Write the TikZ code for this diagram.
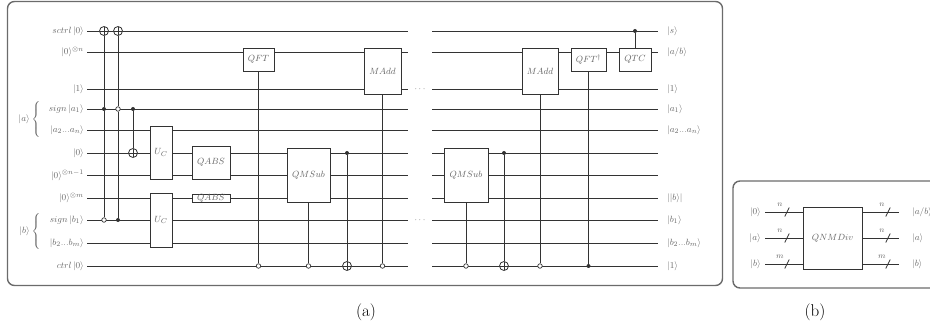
\documentclass[tikz,border=0pt]{standalone}
\usetikzlibrary{calc}
\definecolor{wirecol}{gray}{0.2}
\definecolor{txtcol}{gray}{0.4}
\definecolor{framecol}{gray}{0.42}
\begin{document}
\begin{tikzpicture}[x=1pt,y=-1pt,
  wire/.style={draw=wirecol,line width=0.8pt},
  lbl/.style={text=txtcol,font=\fontsize{9.5}{11}\selectfont,inner sep=1pt},
  smlbl/.style={text=txtcol,font=\fontsize{8}{9}\selectfont,inner sep=0pt},
  gbox/.style={draw=wirecol,line width=0.8pt,fill=white,text=txtcol,font=\fontsize{9.5}{11}\selectfont,inner sep=0pt},
  cfill/.style={circle,fill=wirecol,inner sep=0pt,minimum size=4pt},
  copen/.style={circle,draw=wirecol,fill=white,line width=0.7pt,inner sep=0pt,minimum size=4.5pt},
  targ/.style={circle,draw=wirecol,fill=white,line width=0.8pt,inner sep=0pt,minimum size=9pt,
    path picture={\draw[wirecol,line width=0.8pt] (path picture bounding box.north) -- (path picture bounding box.south)
      (path picture bounding box.west) -- (path picture bounding box.east);}},
  conn/.style={draw=wirecol,line width=0.8pt},
  panel/.style={draw=framecol,line width=1.4pt,rounded corners=7pt},
  subcap/.style={font=\fontsize{17}{20}\selectfont,inner sep=0pt}
]
\useasboundingbox (0,0) rectangle (930,331);

% frames
\draw[panel] (7.5,1.5) rectangle (722.5,285.5);
\draw[panel] (733,181) rectangle (950,288);
\node[subcap] (capa) at (366,312) {(a)};
\node[subcap] (capb) at (815,312) {(b)};

% wires
\foreach \n/\y in {1/31,2/52,3/89,4/109,5/130,6/153,7/175,8/198,9/220,10/243,11/266} {
  \coordinate (wL\n) at (87,\y);
  \coordinate (wM\n) at (408,\y);
  \coordinate (wN\n) at (432,\y);
  \coordinate (wR\n) at (658,\y);
  \draw[wire] (wL\n) -- (wM\n) (wN\n) -- (wR\n);
}
\node[lbl,anchor=base] (dots1) at (420,91.4) {$\cdots$};
\node[lbl,anchor=base] (dots2) at (420,222.4) {$\cdots$};

% left labels
\node[lbl,anchor=east] (l1) at ([xshift=-2pt]wL1) {$sctrl\,|0\rangle$};
\node[lbl,anchor=east] (l2) at ([xshift=-2pt]wL2) {$|0\rangle^{\otimes n}$};
\node[lbl,anchor=east] (l3) at ([xshift=-2pt]wL3) {$|1\rangle$};
\node[lbl,anchor=east] (l4) at ([xshift=-2pt]wL4) {$sign\,|a_1\rangle$};
\node[lbl,anchor=east] (l5) at ([xshift=-2pt]wL5) {$|a_2...a_n\rangle$};
\node[lbl,anchor=east] (l6) at ([xshift=-2pt]wL6) {$|0\rangle$};
\node[lbl,anchor=east] (l7) at ([xshift=-2pt]wL7) {$|0\rangle^{\otimes n-1}$};
\node[lbl,anchor=east] (l8) at ([xshift=-2pt]wL8) {$|0\rangle^{\otimes m}$};
\node[lbl,anchor=east] (l9) at ([xshift=-2pt]wL9) {$sign\,|b_1\rangle$};
\node[lbl,anchor=east] (l10) at ([xshift=-2pt]wL10) {$|b_2...b_m\rangle$};
\node[lbl,anchor=east] (l11) at ([xshift=-2pt]wL11) {$ctrl\,|0\rangle$};

% braces
\node[text=txtcol,inner sep=0pt,anchor=east] (bra) at (42,119.5) {$\left\{\rule[-15.5pt]{0pt}{31pt}\right.$};
\node[lbl,anchor=east] (ka) at (31,119.5) {$|a\rangle$};
\node[text=txtcol,inner sep=0pt,anchor=east] (brb) at (42,231.5) {$\left\{\rule[-15.5pt]{0pt}{31pt}\right.$};
\node[lbl,anchor=east] (kb) at (31,231.5) {$|b\rangle$};

% right labels
\node[lbl,anchor=west] (r1) at ([xshift=8pt]wR1) {$|s\rangle$};
\node[lbl,anchor=west] (r2) at ([xshift=8pt]wR2) {$|a/b\rangle$};
\node[lbl,anchor=west] (r3) at ([xshift=8pt]wR3) {$|1\rangle$};
\node[lbl,anchor=west] (r4) at ([xshift=8pt]wR4) {$|a_1\rangle$};
\node[lbl,anchor=west] (r5) at ([xshift=8pt]wR5) {$|a_2...a_n\rangle$};
\node[lbl,anchor=west] (r8) at ([xshift=8pt]wR8) {$||b\rangle|$};
\node[lbl,anchor=west] (r9) at ([xshift=8pt]wR9) {$|b_1\rangle$};
\node[lbl,anchor=west] (r10) at ([xshift=8pt]wR10) {$|b_2...b_m\rangle$};
\node[lbl,anchor=west] (r11) at ([xshift=8pt]wR11) {$|1\rangle$};

% gate boxes
\node[gbox,minimum width=22pt,minimum height=53pt] (uc1) at (161,152.5) {$U_C$};
\node[gbox,minimum width=22pt,minimum height=54pt] (uc2) at (161,220) {$U_C$};
\node[gbox,minimum width=38pt,minimum height=33pt] (qabs1) at (211,162.5) {$QABS$};
\node[gbox,minimum width=38pt,minimum height=8pt,text height=5pt,text depth=0pt] (qabs2) at (211,198) {$QABS$};
\node[gbox,minimum width=31pt,minimum height=23pt] (qft) at (258.5,59.5) {$QFT$};
\node[gbox,minimum width=43pt,minimum height=54pt] (qms1) at (308.5,175) {$QMSub$};
\node[gbox,minimum width=37pt,minimum height=46pt] (madd1) at (382.5,71) {$MAdd$};
\node[gbox,minimum width=44pt,minimum height=54pt] (qms2) at (466,175) {$QMSub$};
\node[gbox,minimum width=36pt,minimum height=46pt] (madd2) at (540,71) {$MAdd$};
\node[gbox,minimum width=35pt,minimum height=23pt] (qftd) at (588.5,59.5) {$QFT^{\dagger}$};
\node[gbox,minimum width=32pt,minimum height=23pt] (qtc) at (635,59.5) {$QTC$};

% controlled gates
\node[targ] (t1) at (104,31) {};
\node[cfill] (d1) at (104,109) {};
\node[copen] (o1) at (104,220) {};
\draw[conn] (t1) -- (d1) -- (o1);

\node[targ] (t2) at (118,31) {};
\node[copen] (o2) at (118,109) {};
\node[cfill] (d2) at (118,220) {};
\draw[conn] (t2) -- (o2) -- (d2);

\node[cfill] (d3) at (133,109) {};
\node[targ] (t3) at (133,153) {};
\draw[conn] (d3) -- (t3);

\node[copen] (o4) at (258.5,266) {};
\draw[conn] (qft) -- (o4);

\node[copen] (o5) at (308.5,266) {};
\draw[conn] (qms1) -- (o5);

\node[cfill] (d6) at (347,153) {};
\node[targ] (t6) at (347,266) {};
\draw[conn] (d6) -- (t6);

\node[copen] (o7) at (382.5,266) {};
\draw[conn] (madd1) -- (o7);

\node[copen] (o8) at (466,266) {};
\draw[conn] (qms2) -- (o8);

\node[cfill] (d9) at (504,153) {};
\node[targ] (t9) at (504,266) {};
\draw[conn] (d9) -- (t9);

\node[copen] (o10) at (540,266) {};
\draw[conn] (madd2) -- (o10);

\node[cfill] (d11) at (588.5,266) {};
\draw[conn] (qftd) -- (d11);

\node[cfill] (d12) at (635,31) {};
\draw[conn] (d12) -- (qtc);

% (b) summary
\node[gbox,minimum width=59pt,minimum height=62pt] (qnm) at (832.5,238) {$QNMDiv$};
\foreach \n/\y/\s in {1/212/n,2/238/n,3/264/m} {
  \coordinate (bL\n) at (765,\y);
  \coordinate (bR\n) at (899,\y);
  \coordinate (sL\n) at (787,\y);
  \coordinate (sR\n) at (888,\y);
  \draw[wire] (bL\n) -- (bL\n -| qnm.west) (qnm.east |- bR\n) -- (bR\n);
  \draw[conn] ([shift={(-2.2,4.5)}]sL\n) -- ([shift={(2.2,-4.5)}]sL\n);
  \draw[conn] ([shift={(-2.2,4.5)}]sR\n) -- ([shift={(2.2,-4.5)}]sR\n);
  \node[smlbl] (nL\n) at ([shift={(-7,-7)}]sL\n) {$\s$};
  \node[smlbl] (nR\n) at ([shift={(-6,-7)}]sR\n) {$\s$};
}
\node[lbl,anchor=east] (bl1) at ([xshift=-3pt]bL1) {$|0\rangle$};
\node[lbl,anchor=east] (bl2) at ([xshift=-3pt]bL2) {$|a\rangle$};
\node[lbl,anchor=east] (bl3) at ([xshift=-3pt]bL3) {$|b\rangle$};
\node[lbl,anchor=west] (br1) at ([xshift=12pt]bR1) {$|a/b\rangle$};
\node[lbl,anchor=west] (br2) at ([xshift=12pt]bR2) {$|a\rangle$};
\node[lbl,anchor=west] (br3) at ([xshift=12pt]bR3) {$|b\rangle$};
\end{tikzpicture}
\end{document}
